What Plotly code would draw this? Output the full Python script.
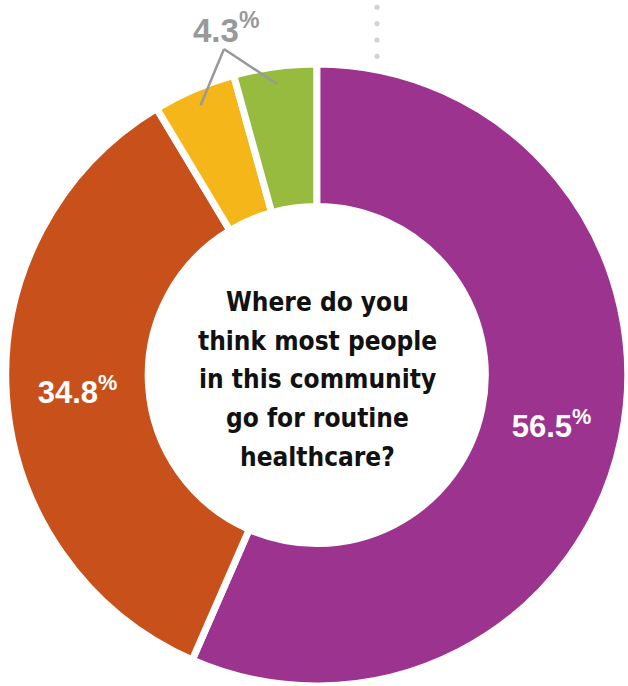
import math
import plotly.graph_objects as go

# ---- data ----
categories = ["Response A", "Response B", "Response C", "Response D"]
values = [56.5, 34.8, 4.3, 4.3]
slice_labels = ["56.5%", "34.8%", "", ""]
small_label = "4.3%"
question_lines = ["Where do you", "think most people", "in this community",
                  "go for routine", "healthcare?"]
colors = ["#9c338f", "#c8501b", "#f4b618", "#97bb3f"]

# ---- layout geometry (pixels) ----
W, H = 628, 686
CX, CY = 316.5, 375.0
R = 311.0          # pie radius given by the domain
GAP = 7            # white separator width

LABEL_FONT = "Liberation Sans, Arial, sans-serif"
TITLE_FONT = "DejaVu Sans Condensed, DejaVu Sans, sans-serif"


def px(x):
    return x / W


def py(y):
    return 1 - y / H


def fmt(t):
    if not t:
        return ""
    num, pct = t[:-1], t[-1]
    return f"<b>{num}<sup>{pct}</sup></b>"


fig = go.Figure()
fig.add_trace(go.Pie(
    labels=categories,
    values=values,
    text=[fmt(t) for t in slice_labels],
    textinfo="text",
    textposition=["inside" if t else "none" for t in slice_labels],
    insidetextorientation="horizontal",
    insidetextfont=dict(color="white", size=31, family=LABEL_FONT),
    marker=dict(colors=colors, line=dict(color="white", width=GAP)),
    hole=0.542,
    sort=False,
    direction="clockwise",
    rotation=0,
    showlegend=False,
    hoverinfo="label+value",
    domain=dict(x=[px(CX - R), 1.0], y=[0.0, py(CY - R)]),
))

# leader lines for the two small slices, derived from slice mid-angles
total = sum(values)
cum = 0.0
mids = []
for v in values:
    mids.append((cum + v / 2) / total * 2 * math.pi)
    cum += v
apex = (224, 49)
r_lead = 0.955 * (R - GAP / 2)
shapes = []
for i in (2, 3):
    a = mids[i]
    ex = CX + r_lead * math.sin(a)
    ey = CY - r_lead * math.cos(a)
    shapes.append(dict(type="line", xref="paper", yref="paper",
                       x0=px(apex[0]), y0=py(apex[1]), x1=px(ex), y1=py(ey),
                       line=dict(color="#97999b", width=2.5)))

# dotted vertical guide at top
for dy in [7.3, 23.6, 40.0, 56.3]:
    r = 2.6
    shapes.append(dict(type="circle", xref="paper", yref="paper",
                       x0=px(377 - r), x1=px(377 + r), y0=py(dy + r), y1=py(dy - r),
                       fillcolor="#d2d3d5", line=dict(width=0)))

annotations = [dict(
    text=fmt(small_label), x=px(226), y=py(28), xref="paper", yref="paper",
    showarrow=False, xanchor="center", yanchor="middle",
    font=dict(size=33, color="#97999b", family=LABEL_FONT),
)]

line_y = [302, 341, 379, 418, 457]
for t, y in zip(question_lines, line_y):
    annotations.append(dict(
        text=f"<b>{t}</b>", x=px(CX + 1), y=py(y), xref="paper", yref="paper",
        showarrow=False, xanchor="center", yanchor="middle",
        font=dict(size=26, color="#111111", family=TITLE_FONT),
    ))

fig.update_layout(
    width=W, height=H,
    margin=dict(l=0, r=0, t=0, b=0),
    paper_bgcolor="white",
    plot_bgcolor="white",
    shapes=shapes,
    annotations=annotations,
)

fig.write_html("out.html", config={"displayModeBar": False},
               post_script="document.body.style.margin='0';")
